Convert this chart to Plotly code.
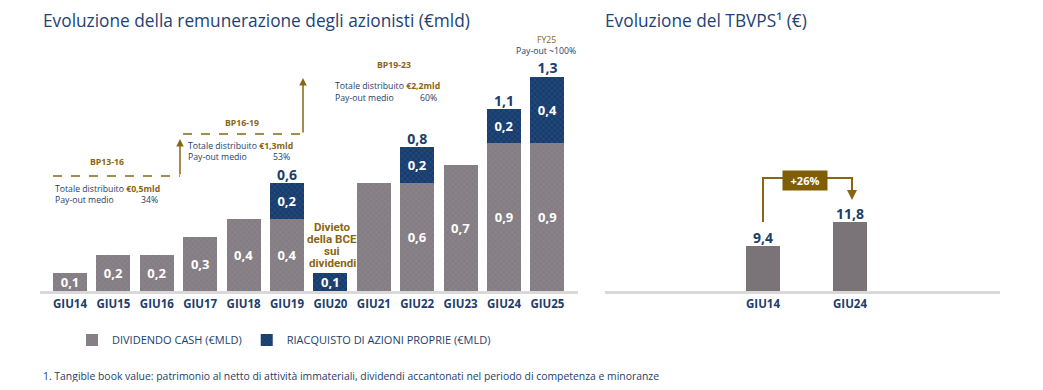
import plotly.graph_objects as go

# ---------------- data ----------------
categories = ["GIU14", "GIU15", "GIU16", "GIU17", "GIU18", "GIU19",
              "GIU20", "GIU21", "GIU22", "GIU23", "GIU24", "GIU25"]
dividend = [0.1, 0.2, 0.2, 0.3, 0.4, 0.4, 0.0, 0.6, 0.6, 0.7, 0.82, 0.82]
buyback = [0.0, 0.0, 0.0, 0.0, 0.0, 0.2, 0.1, 0.0, 0.2, 0.0, 0.19, 0.37]
dividend_labels = ["0,1", "0,2", "0,2", "0,3", "0,4", "0,4", "", "", "0,6", "0,7", "0,9", "0,9"]
buyback_labels = ["", "", "", "", "", "0,2", "0,1", "", "0,2", "", "0,2", "0,4"]
total_labels = ["", "", "", "", "", "0,6", "", "", "0,8", "", "1,1", "1,3"]

tb_categories = ["GIU14", "GIU24"]
tb_values = [9.4, 11.8]
tb_labels = ["9,4", "11,8"]

# ---------------- style ----------------
OFF = 8  # page body margin
W, H = 1043 - 2 * OFF, 390 - 2 * OFF
BLUE_TXT = "#1d3d6b"
GOLD = "#8a6612"
GRAY = "#847d83"
NAVY = "#173d6e"
FONT = "Open Sans"


def px(x):
    return (x - OFF) / W


def py(y):
    return 1 - (y - OFF) / H


totals = [d + b for d, b in zip(dividend, buyback)]

fig = go.Figure()
fig.add_trace(go.Bar(
    x=categories, y=dividend, name="DIVIDENDO CASH (€MLD)",
    marker=dict(color=GRAY, line=dict(width=0),
                pattern=dict(shape="x", size=4, solidity=0.25, fgcolor="#9b949a")),
    text=dividend_labels, textposition="inside", insidetextanchor="middle",
    constraintext="none",
    textfont=dict(color="white", size=13, family=FONT, weight="bold"),
    xaxis="x", yaxis="y", width=0.78,
))
fig.add_trace(go.Bar(
    x=categories, y=buyback, name="RIACQUISTO DI AZIONI PROPRIE (€MLD)",
    marker=dict(color=NAVY, line=dict(width=0),
                pattern=dict(shape="x", size=4, solidity=0.25, fgcolor="#4a6a96")),
    text=buyback_labels, textposition="inside", insidetextanchor="middle",
    constraintext="none",
    textfont=dict(color="white", size=13, family=FONT, weight="bold"),
    xaxis="x", yaxis="y", width=0.78,
))
fig.add_trace(go.Scatter(
    x=categories, y=totals, mode="text", text=total_labels,
    textposition="top center", showlegend=False, cliponaxis=False,
    textfont=dict(color=BLUE_TXT, size=14, family=FONT, weight="bold"),
    xaxis="x", yaxis="y", hoverinfo="skip",
))
fig.add_trace(go.Bar(
    x=tb_categories, y=tb_values, showlegend=False, width=0.39,
    marker=dict(color="#7a7378", line=dict(width=0)),
    xaxis="x2", yaxis="y2",
))
fig.add_trace(go.Scatter(
    x=tb_categories, y=tb_values, mode="text", text=tb_labels,
    textposition="top center", showlegend=False, cliponaxis=False,
    textfont=dict(color=BLUE_TXT, size=14, family=FONT, weight="bold"),
    xaxis="x2", yaxis="y2", hoverinfo="skip",
))

slot = 43.4
left0, right0 = 40, 578
x_lo = -0.5 - (70 - slot / 2 - left0) / slot
x_hi = x_lo + (right0 - left0) / slot

base_y = 291
top_y = 60
scale_left = 180.0
tick_font = dict(color=BLUE_TXT, size=11.5, family=FONT, weight="bold")

fig.update_layout(
    width=W, height=H, margin=dict(l=0, r=0, t=0, b=0),
    paper_bgcolor="white", plot_bgcolor="white",
    barmode="stack", bargap=0.22,
    font=dict(family=FONT, color=BLUE_TXT),
    xaxis=dict(domain=[px(left0), px(right0)], range=[x_lo, x_hi],
               showline=True, linecolor="#d9d9d9", linewidth=3,
               showgrid=False, zeroline=False, ticks="",
               tickfont=tick_font, fixedrange=True),
    yaxis=dict(domain=[py(base_y), py(top_y)], range=[0, (base_y - top_y) / scale_left],
               visible=False, fixedrange=True),
    xaxis2=dict(domain=[px(605), px(1000)], range=[-158 / 87, 1 + 150 / 87],
                showline=True, linecolor="#d9d9d9", linewidth=3,
                showgrid=False, zeroline=False, ticks="",
                tickfont=tick_font, fixedrange=True, anchor="y2"),
    yaxis2=dict(domain=[py(base_y), py(top_y)], range=[4.9, 4.9 + (base_y - top_y) / 10.0],
                visible=False, fixedrange=True, anchor="x2"),
    legend=dict(orientation="h", x=px(72), y=py(340), xanchor="left", yanchor="middle",
                font=dict(color=BLUE_TXT, size=11, family=FONT),
                itemwidth=30, traceorder="normal", bgcolor="rgba(0,0,0,0)"),
    showlegend=True,
)

ann = []


def text(x, y, s, size=10, color=BLUE_TXT, xanchor="left", bold=False, family=FONT):
    ann.append(dict(x=px(x), y=py(y), xref="paper", yref="paper", text=s,
                    showarrow=False, xanchor=xanchor, yanchor="middle",
                    font=dict(size=size, color=color, family=family,
                              weight="bold" if bold else "normal")))


def gold(s):
    return f"<span style='color:{GOLD}'><b>{s}</b></span>"


# titles
text(41, 20, "Evoluzione della remunerazione degli azionisti (€mld)", size=17.3, color="#1e4274")
text(603, 20, "Evoluzione del TBVPS¹ (€)", size=17.3, color="#1e4274")

SMALL = 8.7
# BP13-16
text(107, 162, "BP13-16", size=SMALL, color=GOLD, xanchor="center", bold=True)
text(53, 189, "Totale distribuito " + gold("€0,5mld"), size=SMALL)
text(53, 200, "Pay-out medio", size=SMALL)
text(139, 200, "34%", size=SMALL)
# BP16-19
text(242, 123, "BP16-19", size=SMALL, color=GOLD, xanchor="center", bold=True)
text(186, 146, "Totale distribuito " + gold("€1,3mld"), size=SMALL)
text(186, 157, "Pay-out medio", size=SMALL)
text(271, 157, "53%", size=SMALL)
# BP19-23
text(394, 65, "BP19-23", size=SMALL, color=GOLD, xanchor="center", bold=True)
text(333, 86, "Totale distribuito " + gold("€2,2mld"), size=SMALL)
text(333, 98, "Pay-out medio", size=SMALL)
text(418, 98, "60%", size=SMALL)
# FY25
text(546, 40, "FY25", size=SMALL, color=GOLD, xanchor="center")
text(546, 51, "Pay-out ~100%", size=SMALL, xanchor="center")
# ECB ban (one annotation per line, tight leading)
for line_txt, yy in [("Divieto", 227), ("della BCE", 239), ("sui", 251), ("dividendi", 263)]:
    text(332, yy, line_txt, size=11.6, color=GOLD, xanchor="center", bold=True, family="Roboto")
# footnote
text(41, 376, "1. Tangible book value: patrimonio al netto di attività immateriali, dividendi accantonati nel periodo di competenza e minoranze",
     size=10.4, color=BLUE_TXT)

# arrows
for (xh, yh, length) in [(180, 139, 37), (303, 78, 56)]:
    ann.append(dict(x=px(xh), y=py(yh), xref="paper", yref="paper", text="",
                    showarrow=True, ax=0, ay=length, arrowhead=2, arrowsize=1,
                    arrowwidth=1.5, arrowcolor=GOLD))
# +26% arrow down
ann.append(dict(x=px(852), y=py(200), xref="paper", yref="paper", text="",
                showarrow=True, ax=0, ay=-22, arrowhead=2, arrowsize=1,
                arrowwidth=2, arrowcolor=GOLD))
ann.append(dict(x=px(805), y=py(180), xref="paper", yref="paper",
                text="<b>+26%</b>", showarrow=False, bgcolor="#7f5e05",
                xanchor="center", yanchor="middle", borderpad=2, width=40,
                font=dict(size=11, color="white", family=FONT)))

shapes = [
    dict(type="line", xref="paper", yref="paper", x0=px(53), x1=px(180), y0=py(176), y1=py(176),
         line=dict(color=GOLD, width=1.5, dash="dash")),
    dict(type="line", xref="paper", yref="paper", x0=px(183), x1=px(303), y0=py(134), y1=py(134),
         line=dict(color=GOLD, width=1.5, dash="dash")),
    dict(type="path", xref="paper", yref="paper",
         path=f"M {px(763)} {py(222)} L {px(763)} {py(178)} L {px(852)} {py(178)} L {px(852)} {py(186)}",
         line=dict(color=GOLD, width=2)),
]

fig.update_layout(annotations=ann, shapes=shapes)
fig.write_html("out.html")
